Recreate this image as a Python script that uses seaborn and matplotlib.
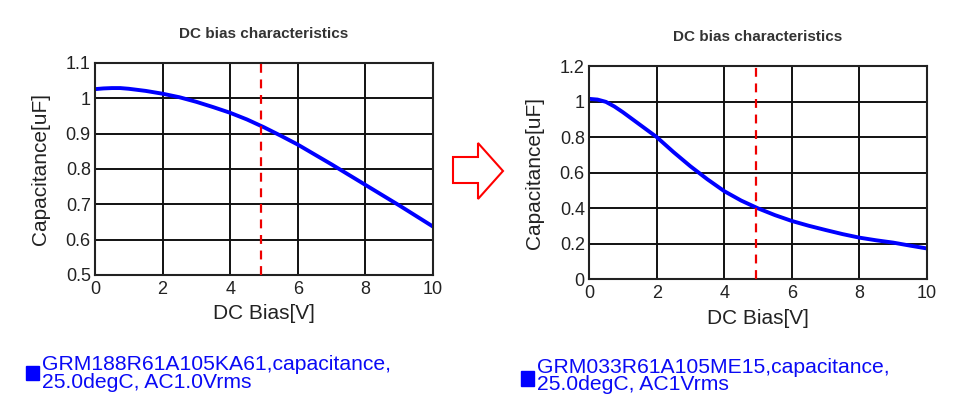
import numpy as np
import pandas as pd
import matplotlib
matplotlib.use("Agg")
import matplotlib.pyplot as plt
import seaborn as sns
from matplotlib.patches import Rectangle, Polygon

# DC bias curves
bias_v = [0, 0.25, 0.5, 0.75, 1, 1.25, 1.5, 1.75, 2, 2.5, 3, 3.5, 4, 4.5, 5, 5.5, 6, 6.5,
          7, 7.5, 8, 8.5, 9, 9.5, 10]
cap_188 = [1.026, 1.028, 1.029, 1.029, 1.027, 1.024, 1.021, 1.017, 1.013, 1.003, 0.990, 0.975,
           0.959, 0.940, 0.918, 0.894, 0.869, 0.841, 0.813, 0.784, 0.755, 0.726, 0.697, 0.667,
           0.637]
cap_033 = [1.015, 1.011, 0.998, 0.972, 0.940, 0.905, 0.870, 0.835, 0.800, 0.715, 0.635, 0.562,
           0.495, 0.442, 0.398, 0.360, 0.327, 0.300, 0.276, 0.253, 0.233, 0.218, 0.205, 0.188,
           0.172]
marker_v = [4.9, 4.95]

left_yticks = [0.5, 0.6, 0.7, 0.8, 0.9, 1.0, 1.1]
left_ylabels = ["0.5", "0.6", "0.7", "0.8", "0.9", "1", "1.1"]
right_yticks = [0, 0.2, 0.4, 0.6, 0.8, 1.0, 1.2]
right_ylabels = ["0", "0.2", "0.4", "0.6", "0.8", "1", "1.2"]
xticks = [0, 2, 4, 6, 8, 10]

legend_188 = "GRM188R61A105KA61,capacitance,\n25.0degC, AC1.0Vrms"
legend_033 = "GRM033R61A105ME15,capacitance,\n25.0degC, AC1Vrms"

sns.set_style("white")
plt.rcParams['font.family'] = ['Liberation Sans', 'DejaVu Sans']

df = pd.DataFrame({"bias": bias_v, "c188": cap_188, "c033": cap_033})

fig = plt.figure(figsize=(9.68, 4.16), dpi=100)
ax1 = fig.add_axes([0.0981, 0.339, 0.3492, 0.5096])
ax2 = fig.add_axes([0.6085, 0.3293, 0.3492, 0.512])


def style_axis(ax, yticks, ylabels, ylim, col, vline):
    sns.lineplot(data=df, x="bias", y=col, ax=ax, color="#0000ff", linewidth=2.8)
    ax.axvline(vline, color="#ee0000", linestyle=(0, (4, 3)), linewidth=1.6, zorder=3)
    ax.set_xlim(0, 10)
    ax.set_ylim(*ylim)
    ax.set_xticks(xticks)
    ax.set_xticklabels([str(t) for t in xticks])
    ax.set_yticks(yticks)
    ax.set_yticklabels(ylabels)
    ax.grid(True, color="#111111", linewidth=1.4)
    ax.set_axisbelow(True)
    for s in ax.spines.values():
        s.set_color("#222222")
        s.set_linewidth(1.5)
        s.set_visible(True)
    ax.tick_params(axis="y", length=0, pad=3, labelsize=13, colors="#222222")
    ax.tick_params(axis="x", length=0, pad=4, labelsize=13, colors="#222222")
    ax.set_xlabel("DC Bias[V]", fontsize=15, labelpad=5, color="#222222")
    ax.set_ylabel("Capacitance[uF]", fontsize=15, labelpad=11, color="#222222")
    ax.set_title("DC bias characteristics", fontsize=11, fontweight="bold",
                 color="#333333", pad=18)


style_axis(ax1, left_yticks, left_ylabels, (0.5, 1.1), "c188", marker_v[0])
style_axis(ax2, right_yticks, right_ylabels, (0, 1.2), "c033", marker_v[1])

# legend-like captions below the charts
fig.patches.append(Rectangle((26 / 968, 1 - 380 / 416), 13 / 968, 14 / 416,
                             transform=fig.transFigure, color="#0000ff"))
fig.text(42 / 968, 1 - 355 / 416, legend_188, fontsize=15.2, color="#0a0af5",
         va="top", ha="left", linespacing=0.9)
fig.patches.append(Rectangle((521 / 968, 1 - 386 / 416), 13 / 968, 15 / 416,
                             transform=fig.transFigure, color="#0000ff"))
fig.text(537 / 968, 1 - 358 / 416, legend_033, fontsize=15.2, color="#0a0af5",
         va="top", ha="left", linespacing=0.9)

# red outline arrow between the charts
arrow_px = [(453, 157), (478, 157), (478, 143), (503, 171), (478, 199), (478, 183), (453, 183)]
arrow_pts = [(x / 968, 1 - y / 416) for x, y in arrow_px]
fig.patches.append(Polygon(arrow_pts, closed=True, fill=False, edgecolor="#ff0000",
                           linewidth=1.5, transform=fig.transFigure))

fig.savefig("out.png", dpi=100, facecolor="white")
